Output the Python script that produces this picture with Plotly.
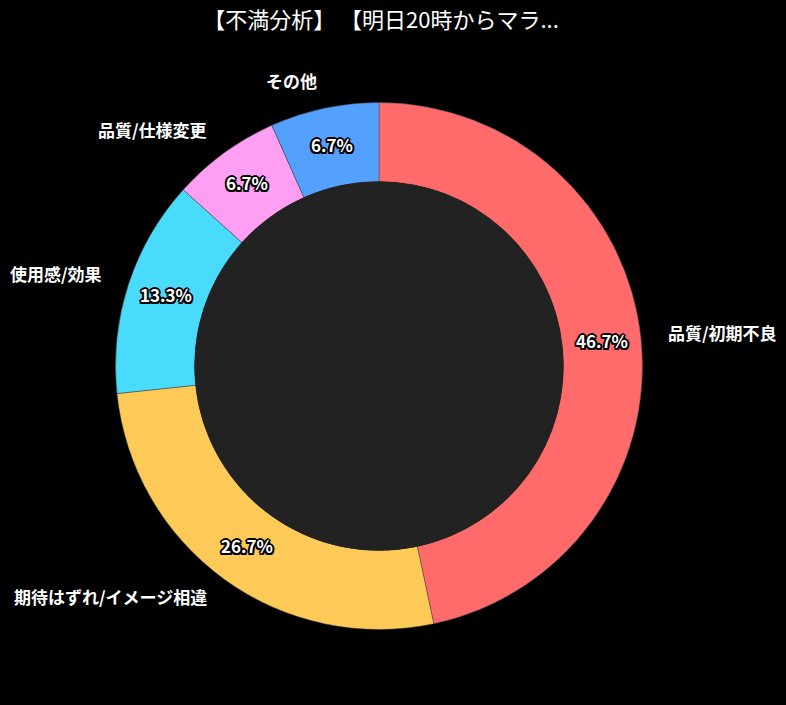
import math
import plotly.graph_objects as go

# 不満分析のデータ
labels = ["品質/初期不良", "期待はずれ/イメージ相違", "使用感/効果", "品質/仕様変更", "その他"]
counts = [7, 4, 2, 1, 1]
colors = ["#ff6b6b", "#feca57", "#48dbfb", "#ff9ff3", "#54a0ff"]
title_text = "【不満分析】 【明日20時からマラ..."

W, H = 786, 705
cx, cy = 379, 366          # 円の中心 (px)
r_out, hole = 263.5, 0.70
r_in = r_out * hole
r_mid = (r_out + r_in) / 2
r_lab = 289

font = "Noto Sans CJK JP"
outline = ("-1.5px -1.5px 0 #000, 1.5px -1.5px 0 #000, -1.5px 1.5px 0 #000, 1.5px 1.5px 0 #000, "
           "0 -2px 0 #000, 0 2px 0 #000, -2px 0 0 #000, 2px 0 0 #000")

fig = go.Figure()
fig.add_trace(go.Pie(
    labels=labels,
    values=counts,
    hole=hole,
    sort=False,
    direction="clockwise",
    rotation=0,
    marker=dict(colors=colors, line=dict(color="#444444", width=0.5)),
    textinfo="none",
    hoverinfo="label+percent",
    showlegend=False,
    domain=dict(x=[(cx - r_out) / W, (cx + r_out) / W],
                y=[(H - cy - r_out) / H, (H - cy + r_out) / H]),
))

# 中央の円
fig.add_shape(type="circle", xref="paper", yref="paper",
              x0=(cx - r_in) / W, x1=(cx + r_in) / W,
              y0=(H - cy - r_in) / H, y1=(H - cy + r_in) / H,
              fillcolor="#222222", line=dict(width=0), layer="above")

total = sum(counts)
cum = 0
for lab, v in zip(labels, counts):
    mid = (cum + v / 2) / total * 2 * math.pi
    cum += v
    s, c = math.sin(mid), math.cos(mid)
    # パーセント
    px, py = cx + r_mid * s, cy - r_mid * c - 2
    fig.add_annotation(x=px / W, y=1 - py / H, xref="paper", yref="paper",
                       text=f"{v / total * 100:.1f}%", showarrow=False,
                       xanchor="center", yanchor="middle",
                       font=dict(family=font, size=17, color="white",
                                 weight="bold", shadow=outline))
    # 外側ラベル
    lx, ly = cx + r_lab * s, cy - r_lab * c - 3
    fig.add_annotation(x=lx / W, y=1 - ly / H, xref="paper", yref="paper",
                       text=lab, showarrow=False,
                       xanchor="left" if s > 0 else "right", yanchor="middle",
                       font=dict(family=font, size=17, color="white", weight="bold"))

fig.update_layout(
    width=W, height=H,
    paper_bgcolor="black",
    plot_bgcolor="black",
    margin=dict(l=0, r=0, t=0, b=0),
    title=dict(text=title_text, x=381 / W, xanchor="center", y=1 - 20 / H, yanchor="middle",
               font=dict(family=font, size=22, color="white")),
)

fig.write_html("out.html", config={"displayModeBar": False},
               post_script="document.body.style.margin='0';document.body.style.background='black';")
